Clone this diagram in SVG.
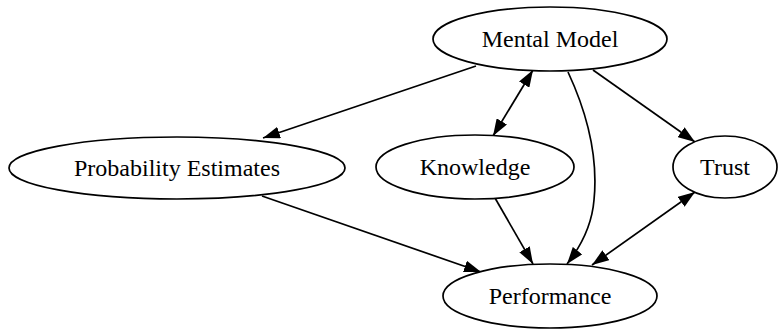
<svg xmlns="http://www.w3.org/2000/svg" width="778" height="329" viewBox="0 0 778 329">
<defs>
<marker id="ah" viewBox="0 0 17 12" refX="17" refY="6" markerWidth="17" markerHeight="12" markerUnits="userSpaceOnUse" orient="auto-start-reverse">
<path d="M0,0 L17,6 L0,12 z" fill="#000"/>
</marker>
<style>
.n ellipse{fill:#fff;stroke:#000;stroke-width:1.7}
.n text{font-family:"Liberation Serif","Times New Roman",serif;font-size:24px;fill:#000;text-anchor:middle}
.e path{fill:none;stroke:#000;stroke-width:1.7}
.one{marker-end:url(#ah)}
.two{marker-start:url(#ah);marker-end:url(#ah)}
</style>
</defs>
<rect width="778" height="329" fill="#fff"/>
<g id="edges" class="e">
<path class="one" d="M476,66 L263,138"/>
<path class="two" d="M533,70 L493,136"/>
<path class="one" d="M568,72 C588,115 598,160 594,200 C592,225 582,245 567,264"/>
<path class="one" d="M593,70 L695,142"/>
<path class="one" d="M495,198 L533,264"/>
<path class="one" d="M262,196 L481,272"/>
<path class="two" d="M695,192 L592,265"/>
</g>
<g id="mental_model" class="n"><ellipse cx="550" cy="39" rx="117" ry="32"/><text x="550" y="47">Mental Model</text></g>
<g id="probability_estimates" class="n"><ellipse cx="177" cy="168" rx="168" ry="31"/><text x="177" y="176">Probability Estimates</text></g>
<g id="knowledge" class="n"><ellipse cx="475" cy="167" rx="99" ry="32"/><text x="475" y="175">Knowledge</text></g>
<g id="trust" class="n"><ellipse cx="725" cy="167" rx="52" ry="31"/><text x="725" y="175">Trust</text></g>
<g id="performance" class="n"><ellipse cx="550" cy="296" rx="107" ry="32"/><text x="550" y="304">Performance</text></g>
</svg>
